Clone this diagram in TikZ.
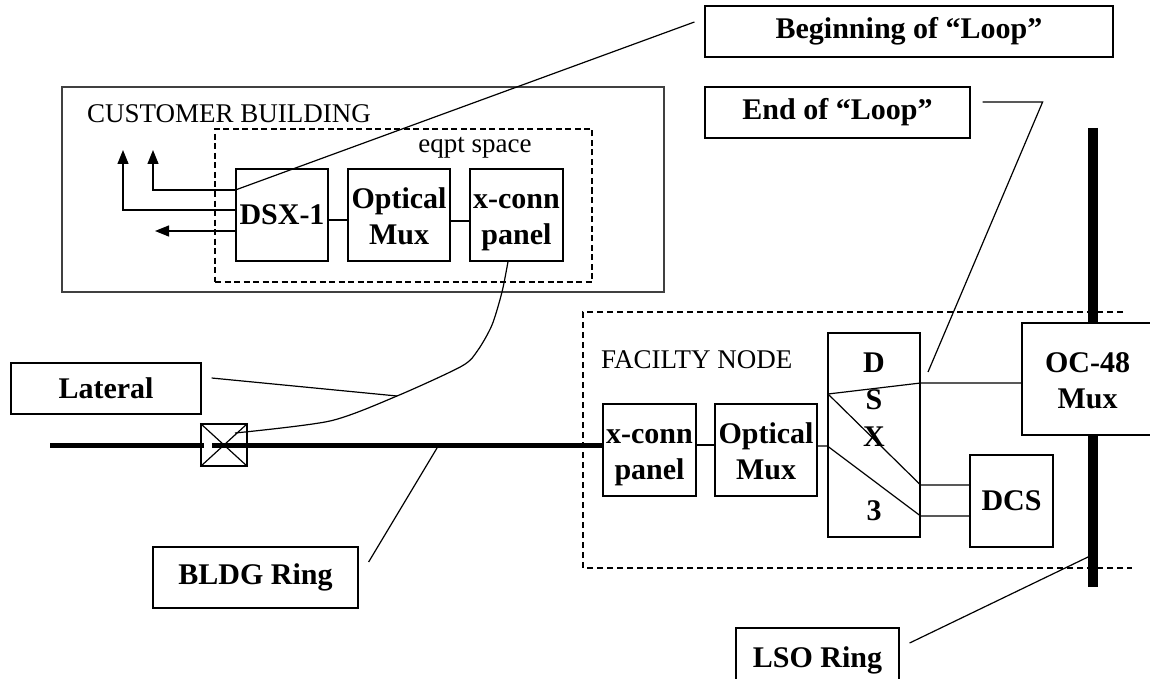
\documentclass[tikz,border=0pt]{standalone}
\usepackage{fontspec}
\setmainfont{Liberation Serif}
\usetikzlibrary{arrows.meta,calc}
\newcommand\lblfont{\bfseries\fontsize{30}{36}\selectfont}
\newcommand\tagfont{\fontsize{27}{32}\selectfont}
% two stacked lines with a fixed first-line height and no depth below the second
\newcommand\twoline[2]{\rule{0pt}{22pt}#1\\\smash{#2}}

\begin{document}
\begin{tikzpicture}[x=1pt,y=-1pt,
  wire/.style={line width=1.2pt},
  box/.style={draw, line width=1.2pt, fill=white, inner sep=0pt, align=center, font=\lblfont},
  area/.style={draw, line width=1.1pt, dash pattern=on 6pt off 3.5pt},
  ringline/.style={line width=5pt},
  lsoline/.style={line width=10pt},
  tip/.style={-{Triangle[length=14pt,width=11pt]}},
  tag/.style={font=\tagfont, inner sep=0pt}]

\useasboundingbox (0,0) rectangle (1150,679);
\clip (0,0) rectangle (1150,679);

% ---------------- customer building ----------------
\node[draw=black!75, line width=1.7pt, minimum width=602pt, minimum height=205pt, inner sep=0pt] (cust) at (363,189.5) {};
\node[tag, anchor=base west] (custlbl) at (87,123) {CUSTOMER BUILDING};
\node[area, minimum width=377pt, minimum height=153pt, inner sep=0pt] (eqpt) at (403.5,205.5) {};
\node[tag, anchor=base] (eqptlbl) at (475,153) {eqpt space};

\node[box, minimum width=92pt, minimum height=92pt] (dsx1) at (282,215) {DSX-1};
\node[box, minimum width=102pt, minimum height=92pt] (omux1) at (399,215) {\twoline{Optical}{Mux}};
\node[box, minimum width=93pt, minimum height=92pt] (xc1) at (516.5,215) {\twoline{x-conn}{panel}};

\draw[wire] ([yshift=-5pt]dsx1.east) -- ([yshift=-5pt]omux1.west);
\draw[wire] ([yshift=-6pt]omux1.east) -- ([yshift=-6pt]xc1.west);

% drops leaving the DSX-1
\coordinate (up1) at (123,150);
\coordinate (up2) at (153,150);
\coordinate (left1) at (155,231);
\draw[wire, tip] ([yshift=5pt]dsx1.west) -| (up1);
\draw[wire, tip] ([yshift=25pt]dsx1.west) -| (up2);
\draw[wire, tip] ([yshift=-16pt]dsx1.west) -- (left1);

% ---------------- callout labels ----------------
\node[box, minimum width=408pt, minimum height=51pt] (begin) at (909,31.5) {Beginning of “Loop”};
\node[box, minimum width=265pt, minimum height=51pt] (endl) at (837.5,112.5) {End of “Loop”};
\node[box, minimum width=190pt, minimum height=51pt] (lat) at (106,388.5) {Lateral};
\node[box, minimum width=205pt, minimum height=61pt] (bldg) at (255.5,577.5) {BLDG Ring};
\node[box, minimum width=163pt, minimum height=64pt] (lso) at (817.5,660) {LSO Ring};

% ---------------- facility node ----------------
\draw[area, dash pattern=on 6pt off 4pt] (1123,312) -- (583,312) -- (583,568) -- (1132,568);
\node[tag, anchor=base west] (faclbl) at (601,368) {FACILTY NODE};

% LSO ring
\coordinate (lsotop) at (1093,128);
\coordinate (lsobot) at (1093,587);
\draw[lsoline] (lsotop) -- (lsobot);

\node[box, minimum width=93pt, minimum height=92pt] (xc2) at (649.5,450) {\twoline{x-conn}{panel}};
\node[box, minimum width=102pt, minimum height=92pt] (omux2) at (766,450) {\twoline{Optical}{Mux}};
\node[box, minimum width=92pt, minimum height=204pt] (dsx3) at (874,435) {\rule{0pt}{23pt}D\\[1pt]S\\[1pt]X\\[38pt]\smash{3}};
\node[box, minimum width=83pt, minimum height=92pt] (dcs) at (1011.5,501) {DCS};
\node[box, minimum width=131pt, minimum height=112pt] (oc48) at (1087.5,379) {\twoline{OC-48}{Mux}};

\draw[wire] ([yshift=5pt]xc2.east) -- ([yshift=5pt]omux2.west);
\coordinate (jA) at (828,394);
\draw[wire] ([yshift=4pt]omux2.east) -- ([yshift=4pt]omux2.east -| dsx3.west)
  -- ([yshift=-81pt]dsx3.east) -- ([yshift=-15pt]dcs.west);
\draw[wire] (jA) -- ([yshift=52pt]dsx3.east) -- ([yshift=-4pt]oc48.west);
\draw[wire] (jA) -- ([yshift=-50pt]dsx3.east) -- ([yshift=16pt]dcs.west);

% ---------------- building ring and lateral ----------------
\node[draw, line width=1.2pt, minimum width=46pt, minimum height=42pt, inner sep=0pt] (splice) at (224,445) {};
\draw[wire] (splice.north west) -- (splice.south east);
\draw[wire] (splice.north east) -- (splice.south west);

\coordinate (ringW) at (50,445);
\draw[ringline] (ringW) -- ([xshift=-20pt]splice.center);
\draw[ringline] ([xshift=-12pt]splice.center) -- ([yshift=5pt]xc2.west);

\coordinate (c0) at ([xshift=-8.5pt]xc1.south);
\coordinate (latpt) at (397,396);
\coordinate (c9) at ([xshift=11pt,yshift=12pt]splice.center);
\draw[wire] plot[smooth, tension=0.45] coordinates {(c0) (502,292) (492,325) (478,350) (462,366) (latpt) (330,421) (c9)};

% ---------------- callout leaders ----------------
\draw[wire] ([yshift=25pt]dsx1.west) -- ([xshift=-10pt,yshift=9.5pt]begin.west);
\coordinate (elend) at (928,372);
\draw[wire] ([xshift=12pt,yshift=10.5pt]endl.east) -- ++(60,0) -- (elend);
\draw[wire] ([xshift=10pt,yshift=10.5pt]lat.east) -- (latpt);
\coordinate (bldgpt) at (437,448);
\draw[wire] ([xshift=10pt,yshift=15.5pt]bldg.east) -- (bldgpt);
\coordinate (lsopt) at (1088,557);
\draw[wire] ([xshift=10pt,yshift=17pt]lso.east) -- (lsopt);

\end{tikzpicture}
\end{document}
